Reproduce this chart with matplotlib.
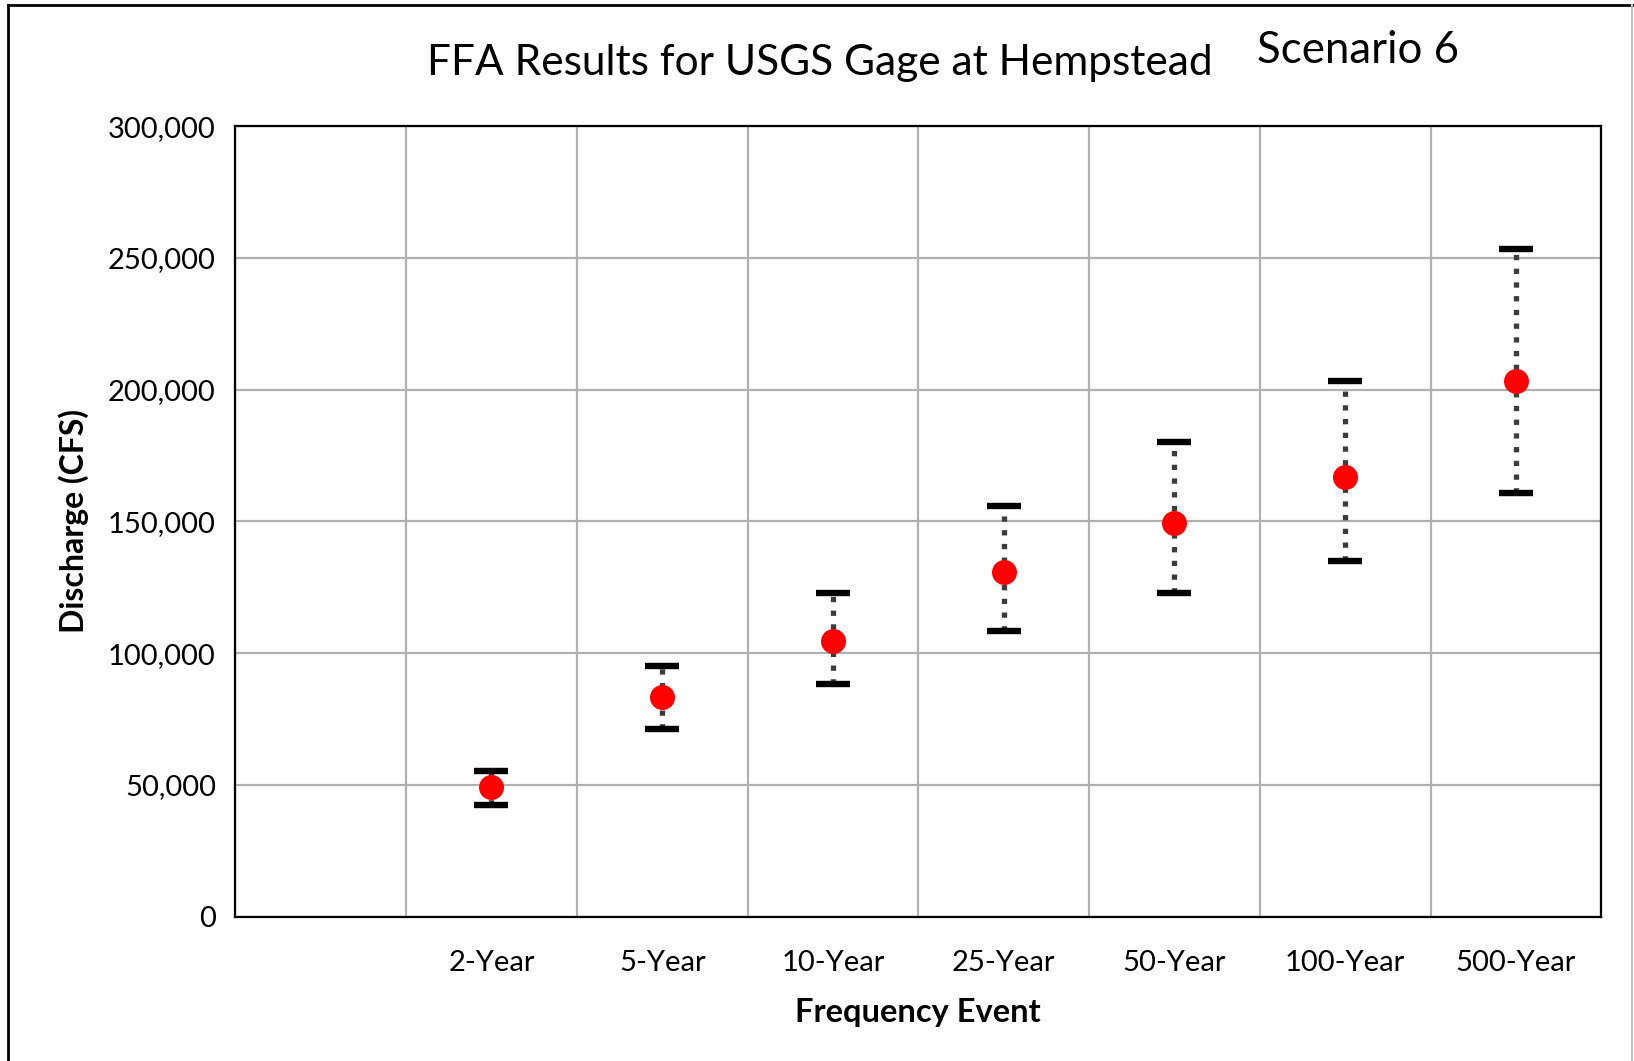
import matplotlib.pyplot as plt
import numpy as np
from matplotlib.lines import Line2D
from matplotlib.ticker import FuncFormatter, MultipleLocator

# data
events = ["2-Year", "5-Year", "10-Year", "25-Year", "50-Year", "100-Year", "500-Year"]
discharge = [49400, 83200, 104500, 130900, 149300, 166700, 203500]
upper = [55200, 95000, 123000, 155900, 180100, 203500, 253500]
lower = [42500, 71300, 88400, 108500, 122700, 135000, 160900]

plt.rcParams["font.family"] = ["Lato", "DejaVu Sans"]

fig = plt.figure(figsize=(16.34, 10.61), dpi=100)
ax = fig.add_axes([0.144, 0.136, 0.836, 0.745])

# first slot on the axis is left empty, like the original
x = np.arange(len(events)) + 1
disc = np.array(discharge)
err = [disc - np.array(lower), np.array(upper) - disc]

_, caps, bars = ax.errorbar(x, disc, yerr=err, fmt="none", ecolor="black",
                            elinewidth=3.8, capsize=12, capthick=4.6, zorder=3)
for b in bars:
    b.set_color("#3c3c3c")
    b.set_linestyle((0, (1, 1.6)))
    b.set_capstyle("butt")
for c in caps:
    c.set_solid_capstyle("round")

ax.plot(x, disc, "o", color="#ff0000", markersize=18, markeredgewidth=0, zorder=4)

ax.set_xlim(-0.5, len(events) + 0.5)
ax.set_ylim(0, 300000)
ax.set_xticks(x)
ax.set_xticklabels(events)
ax.xaxis.set_minor_locator(MultipleLocator(1, offset=0.5))
ax.yaxis.set_major_locator(MultipleLocator(50000))
ax.yaxis.set_major_formatter(FuncFormatter(lambda v, p: f"{int(v):,}"))
ax.tick_params(which="both", length=0, labelsize=21, pad=14)
ax.tick_params(axis="x", pad=24)

ax.grid(axis="y", color="#b0b0b0", linewidth=1.6)
ax.grid(axis="x", which="minor", color="#b0b0b0", linewidth=1.6)
ax.set_axisbelow(True)
for s in ax.spines.values():
    s.set_linewidth(1.6)
    s.set_color("black")

ax.set_xlabel("Frequency Event", fontsize=23.5, fontweight="bold", labelpad=16)
ax.set_ylabel("Discharge (CFS)", fontsize=23, fontweight="bold", labelpad=14)

fig.text(0.502, 0.941, "FFA Results for USGS Gage at Hempstead", fontsize=30.5,
         ha="center", va="center")
fig.text(0.831, 0.952, "Scenario 6", fontsize=31.5, ha="center", va="center")

# outer frame around the chart
fig.add_artist(Line2D([8 / 1634, 8 / 1634], [0, 1 - 5 / 1061], color="black", linewidth=2))
fig.add_artist(Line2D([8 / 1634, 1], [1 - 5 / 1061, 1 - 5 / 1061], color="black", linewidth=2))
fig.add_artist(Line2D([1632 / 1634, 1632 / 1634], [0, 1 - 5 / 1061], color="#c0c0c0", linewidth=1.5))

fig.savefig("out.png", dpi=100)
